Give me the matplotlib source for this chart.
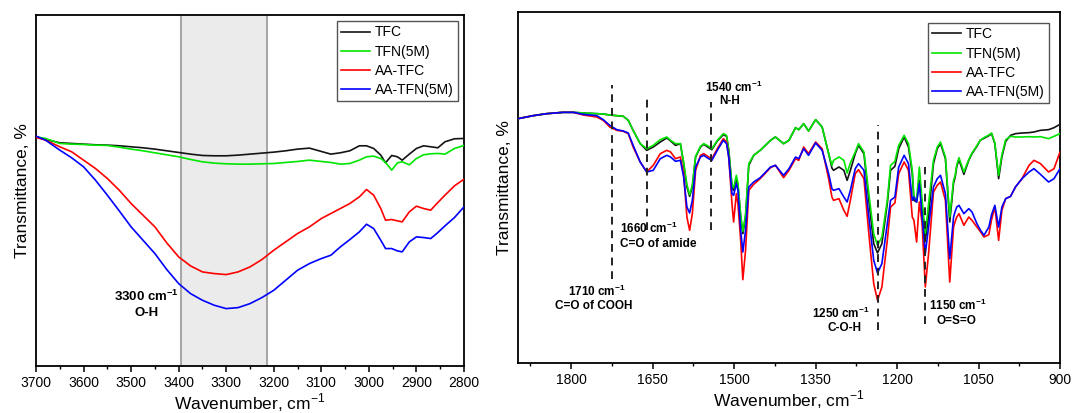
"""FTIR spectra of TFC / TFN membranes: O-H region and fingerprint region."""

import matplotlib

matplotlib.use("Agg")
import matplotlib.pyplot as plt
from matplotlib.ticker import MultipleLocator

plt.rcParams["font.family"] = ["Liberation Sans", "DejaVu Sans"]
plt.rcParams["mathtext.fontset"] = "custom"
plt.rcParams["mathtext.rm"] = "Liberation Sans"
plt.rcParams["mathtext.bf"] = "Liberation Sans:bold"

SERIES = ["TFC", "TFN(5M)", "AA-TFC", "AA-TFN(5M)"]
COLORS = ["#141414", "#00e600", "#ff0000", "#0000ff"]

# O-H stretching region (transmittance in arbitrary units)
OH_WAVENUMBER = [3700, 3680, 3650, 3625, 3600, 3575, 3550, 3525, 3500, 3475, 3450, 3425, 3400, 3375,
                 3350, 3325, 3300, 3275, 3250, 3225, 3200, 3175, 3150, 3125, 3100, 3080, 3060, 3040,
                 3020, 3005, 2990, 2975, 2965, 2952, 2940, 2930, 2915, 2900, 2885, 2870, 2855, 2840,
                 2820, 2800]
OH_TFC = [687, 679, 669, 667, 665, 663, 662, 660, 657, 654, 650, 645, 640, 635,
          631, 630, 630, 632, 635, 638, 641, 645, 650, 653, 643, 635, 639, 645,
          660, 660, 652, 632, 609, 631, 627, 617, 635, 652, 660, 657, 654, 672,
          681, 682]
OH_TFN = [687, 682, 667, 665, 664, 662, 661, 656, 650, 645, 639, 633, 627, 619,
          612, 608, 606, 605, 605, 606, 607, 610, 613, 617, 613, 610, 605, 607,
          617, 627, 629, 622, 610, 587, 609, 612, 603, 622, 633, 636, 637, 635,
          652, 661]
OH_AA_TFC = [685, 677, 657, 642, 617, 592, 562, 527, 487, 452, 417, 369, 327, 300,
             282, 277, 274, 282, 297, 319, 347, 372, 397, 417, 442, 457, 472, 487,
             507, 529, 512, 472, 437, 439, 435, 432, 462, 479, 472, 467, 490, 512,
             540, 560]
OH_AA_TFN = [689, 677, 647, 624, 597, 557, 512, 465, 417, 377, 337, 289, 247, 217,
             197, 182, 172, 175, 187, 205, 227, 257, 287, 307, 322, 332, 357, 379,
             402, 425, 412, 377, 352, 352, 345, 342, 372, 387, 385, 382, 400, 420,
             445, 477]
OH_BAND = (3395, 3215)

# 1900-900 cm-1 region (transmittance in arbitrary units)
FP_WAVENUMBER = [1898, 1870, 1845, 1815, 1796, 1778, 1753, 1741, 1729, 1716, 1704, 1695, 1686, 1673,
                 1661, 1649, 1636, 1624, 1617, 1608, 1599, 1593, 1587, 1582, 1577, 1571, 1562, 1556,
                 1547, 1541, 1531, 1520, 1514, 1510, 1504, 1501, 1496, 1493, 1488, 1484, 1479, 1473,
                 1464, 1452, 1433, 1424, 1409, 1399, 1387, 1381, 1372, 1363, 1350, 1338, 1326, 1320,
                 1317, 1307, 1298, 1292, 1286, 1277, 1271, 1261, 1252, 1243, 1236, 1228, 1218, 1212,
                 1204, 1197, 1187, 1179, 1172, 1169, 1164, 1159, 1154, 1148, 1142, 1133, 1126, 1120,
                 1111, 1103, 1096, 1093, 1090, 1086, 1077, 1068, 1062, 1053, 1047, 1040, 1031, 1026,
                 1020, 1013, 1007, 1000, 991, 982, 970, 957, 948, 936, 921, 911, 900]
FP_TFC = [733, 742, 748, 752, 752, 750, 748, 747, 744, 742, 740, 728, 698, 658,
          638, 648, 663, 675, 666, 653, 658, 598, 528, 500, 528, 618, 648, 656,
          646, 640, 666, 685, 680, 640, 528, 518, 553, 533, 438, 388, 438, 593,
          623, 638, 668, 678, 658, 668, 706, 700, 718, 696, 730, 708, 628, 585,
          578, 588, 578, 548, 578, 628, 653, 628, 488, 358, 330, 358, 478, 578,
          590, 643, 678, 648, 568, 488, 483, 548, 470, 368, 440, 598, 643, 658,
          613, 423, 540, 558, 590, 610, 566, 608, 628, 650, 668, 674, 682, 688,
          658, 553, 618, 665, 683, 688, 690, 691, 693, 698, 700, 706, 716]
FP_TFN = [733, 742, 748, 752, 752, 750, 748, 747, 744, 742, 740, 728, 698, 658,
          643, 653, 670, 678, 668, 658, 658, 603, 535, 505, 533, 620, 650, 658,
          650, 643, 668, 688, 683, 638, 535, 525, 563, 540, 445, 395, 445, 598,
          623, 638, 668, 678, 658, 668, 706, 700, 718, 696, 730, 708, 628, 593,
          608, 618, 608, 570, 600, 633, 658, 633, 508, 388, 353, 378, 488, 593,
          605, 653, 683, 658, 578, 498, 490, 588, 490, 388, 478, 608, 648, 663,
          618, 438, 548, 563, 595, 616, 573, 610, 630, 652, 668, 676, 684, 690,
          660, 563, 625, 670, 680, 678, 678, 679, 678, 679, 673, 680, 688]
FP_AA_TFC = [733, 742, 748, 752, 752, 744, 738, 728, 708, 698, 695, 688, 648, 603,
             573, 593, 628, 638, 633, 613, 618, 568, 438, 398, 448, 578, 623, 628,
             618, 613, 643, 673, 663, 618, 478, 423, 508, 478, 368, 250, 338, 518,
             536, 553, 586, 593, 556, 578, 613, 608, 648, 628, 663, 643, 553, 498,
             488, 493, 458, 440, 488, 568, 580, 553, 388, 238, 188, 228, 368, 468,
             480, 568, 603, 578, 438, 428, 363, 483, 420, 228, 328, 513, 533, 543,
             488, 243, 408, 425, 438, 448, 413, 438, 428, 408, 395, 378, 385, 430,
             468, 368, 458, 493, 500, 528, 553, 593, 608, 598, 573, 583, 633]
FP_AA_TFN = [733, 742, 748, 752, 752, 746, 742, 730, 713, 700, 696, 690, 653, 603,
             573, 578, 613, 623, 618, 605, 608, 558, 468, 450, 488, 588, 618, 623,
             613, 608, 638, 668, 658, 618, 508, 503, 538, 518, 398, 333, 398, 528,
             543, 556, 588, 593, 563, 583, 618, 613, 643, 623, 660, 638, 568, 523,
             518, 523, 498, 483, 518, 583, 598, 578, 438, 308, 270, 298, 418, 488,
             498, 588, 623, 598, 488, 498, 483, 538, 440, 328, 408, 528, 553, 563,
             508, 313, 438, 455, 468, 473, 448, 463, 453, 418, 400, 383, 408, 445,
             473, 408, 468, 493, 500, 528, 553, 573, 583, 566, 543, 553, 583]

# dashed marker lines: (wavenumber, top, bottom)
FP_MARK_POS = [1724, 1660, 1542, 1236, 1148]
FP_MARK_TOP = [833, 798, 783, 713, 588]
FP_MARK_BOTTOM = [253, 398, 398, 98, 118]


def main() -> None:
    fig = plt.figure(figsize=(10.72, 4.13), dpi=100)
    ax_oh = fig.add_axes([36 / 1072, 47 / 413, 428 / 1072, 351 / 413])
    ax_fp = fig.add_axes([518 / 1072, 50 / 413, 542 / 1072, 351 / 413])

    _draw_oh(ax_oh)
    _draw_fp(ax_fp)

    fig.savefig("out.png", dpi=100)
    plt.close(fig)


def _style_axes(ax, major: float, minor: float) -> None:
    ax.xaxis.set_major_locator(MultipleLocator(major))
    ax.xaxis.set_minor_locator(MultipleLocator(minor))
    ax.tick_params(axis="x", which="major", direction="out", length=4, width=1.1, labelsize=10, pad=3)
    ax.tick_params(axis="x", which="minor", direction="out", length=2.5, width=1.0)
    ax.set_yticks([])
    for spine in ax.spines.values():
        spine.set_linewidth(1.3)
    ax.set_xlabel("Wavenumber, cm$^{-1}$", fontsize=12.5, labelpad=1)
    ax.set_ylabel("Transmittance, %", fontsize=12.5, labelpad=4)


def _legend(ax, pad: float) -> None:
    leg = ax.legend(loc="upper right", fontsize=10, handlelength=2.1, handletextpad=0.35,
                    labelspacing=0.38, borderpad=0.3, borderaxespad=pad, fancybox=False,
                    framealpha=1)
    leg.get_frame().set_edgecolor("#555555")
    leg.get_frame().set_linewidth(1.0)


def _draw_oh(ax) -> None:
    ax.axvspan(OH_BAND[0], OH_BAND[1], facecolor="#ebebeb", edgecolor="none", zorder=0)
    for x in OH_BAND:
        ax.axvline(x, color="#a8a8a8", lw=1.5, zorder=1)
    for values, label, color in zip([OH_TFC, OH_TFN, OH_AA_TFC, OH_AA_TFN], SERIES, COLORS):
        ax.plot(OH_WAVENUMBER, values, color=color, lw=1.2, label=label, zorder=3)
    ax.set_xlim(3700, 2800)
    ax.set_ylim(0, 1052)
    _style_axes(ax, 100, 50)
    ax.text(3467, 209, "3300 cm$^{\\mathbf{-1}}$", ha="center", va="center", fontsize=9.5, fontweight="bold")
    ax.text(3467, 159, "O-H", ha="center", va="center", fontsize=9.5, fontweight="bold")
    _legend(ax, 0.45)


def _draw_fp(ax) -> None:
    for values, label, color in zip([FP_TFC, FP_TFN, FP_AA_TFC, FP_AA_TFN], SERIES, COLORS):
        ax.plot(FP_WAVENUMBER, values, color=color, lw=1.2, label=label, zorder=3)
    for x, top, bottom in zip(FP_MARK_POS, FP_MARK_TOP, FP_MARK_BOTTOM):
        ax.plot([x, x], [bottom, top], color="#222222", lw=1.4, ls=(0, (4, 3)), zorder=4)
    ax.set_xlim(1898, 900)
    ax.set_ylim(0, 1053)
    _style_axes(ax, 150, 75)

    style = dict(fontsize=8.5, fontweight="bold", va="center")
    ax.text(1752, 216, "1710 cm$^{\\mathbf{-1}}$", ha="center", **style)
    ax.text(1759, 171, "C=O of COOH", ha="center", **style)
    ax.text(1710, 403, "1660 cm$^{\\mathbf{-1}}$", ha="left", **style)
    ax.text(1710, 358, "C=O of amide", ha="left", **style)
    ax.text(1501, 828, "1540 cm$^{\\mathbf{-1}}$", ha="center", **style)
    ax.text(1508, 786, "N-H", ha="center", **style)
    ax.text(1303, 148, "1250 cm$^{\\mathbf{-1}}$", ha="center", **style)
    ax.text(1297, 106, "C-O-H", ha="center", **style)
    ax.text(1088, 173, "1150 cm$^{\\mathbf{-1}}$", ha="center", **style)
    ax.text(1091, 126, "O=S=O", ha="center", **style)
    _legend(ax, 0.8)


if __name__ == "__main__":
    main()
